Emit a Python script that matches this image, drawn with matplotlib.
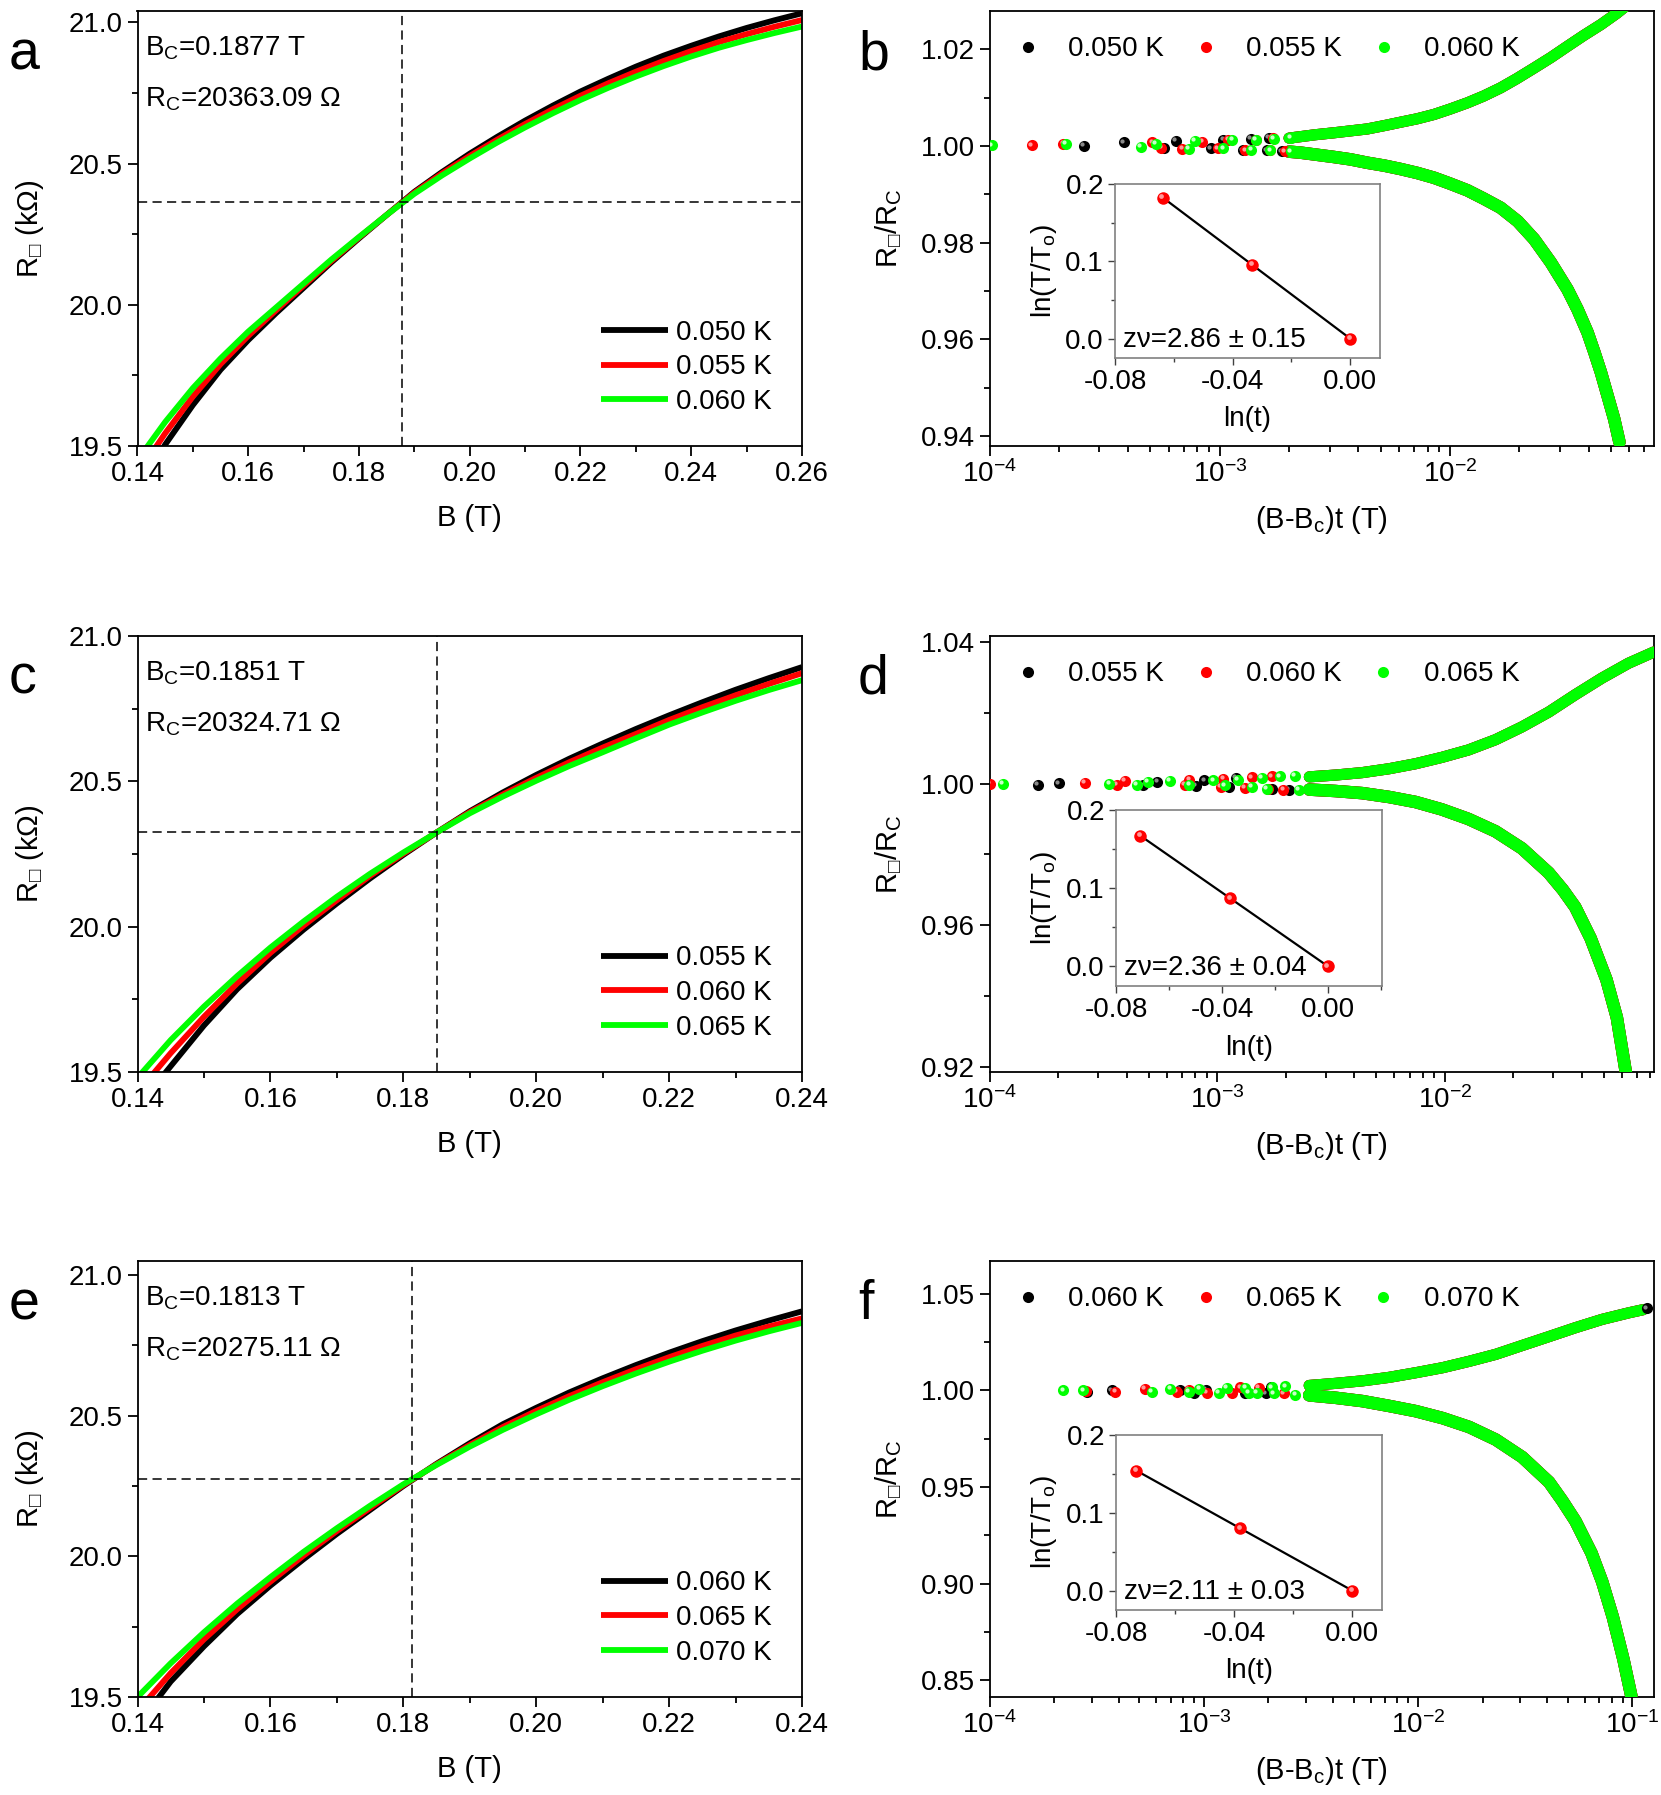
import matplotlib
matplotlib.use('Agg')
import matplotlib.pyplot as plt
import numpy as np
from matplotlib.transforms import offset_copy
from matplotlib.ticker import MultipleLocator, FormatStrFormatter, LogLocator, NullFormatter

plt.rcParams.update({
    'font.family': ['Liberation Sans', 'DejaVu Sans'],
    'mathtext.fontset': 'custom',
    'mathtext.rm': 'Liberation Sans',
    'mathtext.it': 'Liberation Sans:italic',
    'mathtext.bf': 'Liberation Sans:bold',
    'mathtext.sf': 'Liberation Sans',
    'mathtext.fallback': 'stixsans',
    'axes.unicode_minus': False,
})

BLK, RED, GRN = '#000000', '#ff0000', '#00ff00'
COLORS = [BLK, RED, GRN]
HILITE = {BLK: '#8a8a8a', RED: '#ff9a9a', GRN: '#c8ffc8'}

# ---------------- panel a ----------------
a_labels = ['0.050 K', '0.055 K', '0.060 K']
a_B = [0.140, 0.145, 0.150, 0.155, 0.160, 0.165, 0.170, 0.175, 0.180, 0.185, 0.190, 0.195, 0.200,
       0.205, 0.210, 0.215, 0.220, 0.225, 0.230, 0.235, 0.240, 0.245, 0.250, 0.255, 0.260]
a_R_050 = [19.34, 19.505, 19.645, 19.77, 19.875, 19.97, 20.06, 20.15, 20.235, 20.318, 20.40, 20.47, 20.535,
           20.595, 20.652, 20.705, 20.755, 20.80, 20.843, 20.882, 20.917, 20.95, 20.98, 21.007, 21.032]
a_R_055 = [19.40, 19.545, 19.675, 19.79, 19.89, 19.98, 20.068, 20.155, 20.238, 20.318, 20.397, 20.465, 20.527,
           20.585, 20.64, 20.692, 20.74, 20.784, 20.825, 20.863, 20.898, 20.93, 20.958, 20.984, 21.008]
a_R_060 = [19.45, 19.585, 19.705, 19.81, 19.905, 19.99, 20.075, 20.16, 20.24, 20.318, 20.393, 20.458, 20.518,
           20.575, 20.628, 20.678, 20.725, 20.768, 20.808, 20.845, 20.879, 20.91, 20.937, 20.962, 20.985]
a_Bc, a_Rc = 0.1877, 20363.09

# ---------------- panel c ----------------
c_labels = ['0.055 K', '0.060 K', '0.065 K']
c_B = [0.140, 0.145, 0.150, 0.155, 0.160, 0.165, 0.170, 0.175, 0.180, 0.185, 0.190,
       0.195, 0.200, 0.205, 0.210, 0.215, 0.220, 0.225, 0.230, 0.235, 0.240]
c_R_055 = [19.38, 19.52, 19.66, 19.785, 19.893, 19.99, 20.08, 20.166, 20.247, 20.324, 20.397,
           20.462, 20.522, 20.578, 20.63, 20.68, 20.727, 20.772, 20.815, 20.855, 20.893]
c_R_060 = [19.43, 19.565, 19.69, 19.805, 19.91, 20.004, 20.091, 20.175, 20.251, 20.324, 20.394,
           20.455, 20.512, 20.566, 20.616, 20.663, 20.711, 20.755, 20.796, 20.835, 20.872]
c_R_065 = [19.48, 19.61, 19.725, 19.83, 19.928, 20.018, 20.103, 20.182, 20.255, 20.324, 20.39,
           20.448, 20.502, 20.553, 20.60, 20.648, 20.695, 20.737, 20.777, 20.814, 20.848]
c_Bc, c_Rc = 0.1851, 20324.71

# ---------------- panel e ----------------
e_labels = ['0.060 K', '0.065 K', '0.070 K']
e_B = c_B
e_R_060 = [19.40, 19.555, 19.68, 19.795, 19.896, 19.99, 20.08, 20.165, 20.25, 20.329, 20.402,
           20.47, 20.528, 20.583, 20.633, 20.68, 20.724, 20.765, 20.803, 20.838, 20.871]
e_R_065 = [19.45, 19.585, 19.705, 19.812, 19.91, 20.003, 20.09, 20.172, 20.253, 20.327, 20.396,
           20.46, 20.517, 20.57, 20.619, 20.665, 20.708, 20.748, 20.785, 20.817, 20.846]
e_R_070 = [19.50, 19.62, 19.73, 19.832, 19.926, 20.016, 20.10, 20.18, 20.256, 20.325, 20.39,
           20.45, 20.505, 20.557, 20.605, 20.65, 20.692, 20.731, 20.767, 20.80, 20.83]
e_Bc, e_Rc = 0.1813, 20275.11

# ---------------- panel b (scaling) ----------------
b_pts_x = [[2.57e-4, 3.84e-4, 5.72e-4, 6.45e-4, 9.12e-4, 1.035e-3, 1.26e-3, 1.36e-3, 1.60e-3, 1.63e-3, 1.86e-3],
           [1.53e-4, 2.09e-4, 5.09e-4, 5.58e-4, 6.87e-4, 8.39e-4, 9.81e-4, 1.089e-3, 1.29e-3, 1.43e-3, 1.66e-3, 1.70e-3, 1.92e-3],
           [1.02e-4, 2.14e-4, 4.53e-4, 5.26e-4, 7.36e-4, 7.80e-4, 1.035e-3, 1.133e-3, 1.37e-3, 1.43e-3, 1.66e-3, 1.72e-3, 2.03e-3, 2.03e-3]]
b_pts_y = [[1.0000, 1.0007, 0.9996, 1.0010, 0.9995, 1.0013, 0.9991, 1.0014, 0.9991, 1.0016, 0.9989],
           [1.0001, 1.0004, 1.0007, 0.9996, 0.9994, 1.0008, 0.9995, 1.0013, 0.9991, 1.0013, 0.9991, 1.0016, 0.9989],
           [1.0001, 1.0004, 0.9998, 1.0004, 0.9994, 1.0010, 0.9995, 1.0012, 0.9992, 1.0013, 0.9991, 1.0014, 0.9989, 1.0016]]
b_up_x = [2.0e-3, 2.24e-3, 2.6e-3, 3.13e-3, 3.7e-3, 4.38e-3, 5.2e-3, 6.11e-3, 7.2e-3, 8.53e-3, 1.0e-2, 1.19e-2,
          1.4e-2, 1.66e-2, 1.95e-2, 2.32e-2, 2.75e-2, 3.24e-2, 3.8e-2, 4.53e-2, 5.3e-2, 5.91e-2, 6.6e-2]
b_up_y = [1.0016, 1.0019, 1.0023, 1.0027, 1.0031, 1.0035, 1.0042, 1.0049, 1.0056, 1.0065, 1.0076, 1.0089,
          1.0103, 1.0120, 1.0139, 1.0161, 1.0183, 1.0206, 1.0228, 1.0251, 1.0274, 1.0292, 1.0312]
b_dn_x = [2.0e-3, 2.24e-3, 2.6e-3, 3.13e-3, 3.7e-3, 4.38e-3, 5.2e-3, 6.11e-3, 7.2e-3, 8.53e-3, 1.0e-2, 1.19e-2,
          1.4e-2, 1.66e-2, 1.97e-2, 2.32e-2, 2.74e-2, 3.24e-2, 3.58e-2, 3.96e-2, 4.24e-2, 4.53e-2, 4.84e-2, 5.17e-2, 5.45e-2]
b_dn_y = [0.9988, 0.9986, 0.9982, 0.9977, 0.9972, 0.9965, 0.9959, 0.9952, 0.9944, 0.9934, 0.9922, 0.9908,
          0.9891, 0.9872, 0.9844, 0.9807, 0.9759, 0.9703, 0.9662, 0.9614, 0.9573, 0.9531, 0.9483, 0.9435, 0.9387]
b_labels = a_labels
b_lnt = [-0.0637, -0.0333, 0.0]
b_lnT = [0.1823, 0.0953, 0.0]

# ---------------- panel d (scaling) ----------------
d_pts_x = [[1.63e-4, 2.02e-4, 4.71e-4, 5.46e-4, 8.07e-4, 8.79e-4, 1.13e-3, 1.21e-3, 1.74e-3, 2.06e-3],
           [1.0e-4, 2.62e-4, 3.62e-4, 3.94e-4, 7.23e-4, 7.55e-4, 1.04e-3, 1.064e-3, 1.32e-3, 1.42e-3, 1.68e-3, 1.74e-3, 1.95e-3],
           [1.14e-4, 3.36e-4, 4.43e-4, 4.95e-4, 6.21e-4, 7.55e-4, 9.62e-4, 1.08e-3, 1.23e-3, 1.42e-3, 1.57e-3, 1.65e-3, 1.89e-3, 2.2e-3, 2.28e-3]]
d_pts_y = [[0.9997, 1.0001, 0.9995, 1.0005, 0.9994, 1.0009, 0.9991, 1.0016, 0.9986, 0.9983],
           [1.0000, 1.0003, 0.9997, 1.0007, 0.9997, 1.0011, 0.9991, 1.0014, 0.9988, 1.0018, 0.9986, 1.0020, 0.9983],
           [1.0000, 0.9999, 0.9997, 1.0005, 1.0007, 0.9997, 1.0009, 0.9995, 1.0011, 0.9990, 1.0016, 0.9986, 1.0020, 1.0022, 0.9983]]
d_up_x = [2.54e-3, 3.3e-3, 4.34e-3, 5.7e-3, 7.43e-3, 9.7e-3, 1.27e-2, 1.67e-2, 2.18e-2, 2.86e-2, 3.74e-2, 4.90e-2, 6.41e-2, 8.3e-2]
d_up_y = [1.0019, 1.0024, 1.0031, 1.0042, 1.0056, 1.0074, 1.0095, 1.0124, 1.0160, 1.0202, 1.0251, 1.0298, 1.0340, 1.0372]
d_dn_x = [2.54e-3, 3.3e-3, 4.34e-3, 5.7e-3, 7.43e-3, 9.7e-3, 1.27e-2, 1.67e-2, 2.18e-2, 2.86e-2, 3.3e-2, 3.74e-2,
          4.37e-2, 5.13e-2, 5.70e-2, 6.24e-2, 6.6e-2]
d_dn_y = [0.9983, 0.9979, 0.9973, 0.9962, 0.9948, 0.9927, 0.9900, 0.9865, 0.9817, 0.9748, 0.9700, 0.9651,
          0.9563, 0.9446, 0.9339, 0.9185, 0.9100]
d_labels = c_labels
d_lnt = [-0.0708, -0.0369, 0.0]
d_lnT = [0.1671, 0.0870, 0.0]

# ---------------- panel f (scaling) ----------------
f_pts_x = [[2.86e-4, 3.72e-4, 7.70e-4, 8.96e-4, 1.02e-3, 1.56e-3, 1.94e-3, 2.05e-3, 1.17e-1],
           [2.81e-4, 3.86e-4, 5.32e-4, 7.49e-4, 8.49e-4, 1.03e-3, 1.35e-3, 1.48e-3, 1.80e-3, 2.36e-3],
           [2.21e-4, 2.74e-4, 5.72e-4, 6.96e-4, 8.49e-4, 9.52e-4, 1.17e-3, 1.28e-3, 1.56e-3, 1.62e-3, 1.77e-3, 2.08e-3, 2.12e-3, 2.40e-3, 2.67e-3]]
f_pts_y = [[0.9994, 1.0000, 1.0005, 0.9985, 1.0005, 0.9985, 0.9985, 1.0017, 1.0425],
           [0.9997, 0.9993, 1.0009, 0.9993, 1.0005, 0.9988, 0.9988, 1.0017, 1.0014, 0.9985],
           [1.0000, 1.0000, 0.9993, 1.0009, 0.9993, 1.0009, 0.9988, 1.0014, 1.0014, 0.9988, 0.9988, 1.0017, 0.9985, 1.0022, 0.9979]]
f_up_x = [3.10e-3, 4.13e-3, 5.50e-3, 7.32e-3, 9.75e-3, 1.30e-2, 1.73e-2, 2.30e-2, 3.06e-2, 4.08e-2, 5.42e-2, 7.22e-2, 9.62e-2, 1.12e-1]
f_up_y = [1.0026, 1.0037, 1.0050, 1.0068, 1.0092, 1.0118, 1.0151, 1.0187, 1.0233, 1.0279, 1.0325, 1.0368, 1.0402, 1.0418]
f_dn_x = [3.10e-3, 4.13e-3, 5.50e-3, 7.32e-3, 9.75e-3, 1.30e-2, 1.73e-2, 2.30e-2, 3.06e-2, 4.08e-2, 4.7e-2, 5.42e-2,
          6.44e-2, 7.22e-2, 8.10e-2, 9.08e-2, 9.62e-2, 9.9e-2]
f_dn_y = [0.9975, 0.9962, 0.9945, 0.9920, 0.9893, 0.9857, 0.9811, 0.9746, 0.9655, 0.9526, 0.9430, 0.9324,
          0.9158, 0.9011, 0.8827, 0.8607, 0.8478, 0.8414]
f_labels = e_labels
f_lnt = [-0.0731, -0.0379, 0.0]
f_lnT = [0.1542, 0.0800, 0.0]

# ============================================================
W, H = 1661, 1795
fig = plt.figure(figsize=(W / 100, H / 100), dpi=100)

def frac_rect(left, top, right, bottom):
    return [left / W, 1 - bottom / H, (right - left) / W, (bottom - top) / H]

ROWS = [(11, 446), (636, 1072), (1261, 1697)]
LEFT_COL = (137.5, 802)
RIGHT_COL = (989.6, 1654)
TICK_FS = 20

def style_axes(ax, lw=1.3):
    for s in ax.spines.values():
        s.set_linewidth(lw)
    ax.tick_params(which='both', direction='out', top=False, right=False, width=lw, labelsize=TICK_FS)
    ax.tick_params(which='major', length=7)
    ax.tick_params(which='minor', length=4)

def balls(ax, x, y, color, ms=8.0, z=3, label=None, hilite=True):
    h, = ax.plot(x, y, 'o', ms=ms, color=color, mec='none', zorder=z, label=label)
    if hilite:
        tr = offset_copy(ax.transData, fig=ax.figure, x=-1.2, y=1.2, units='points')
        ax.plot(x, y, 'o', ms=ms * 0.38, color=HILITE[color], mec='none', transform=tr, zorder=z + 0.1)
    return h

def letter_text(x_px, row, letter):
    top, _ = ROWS[row]
    fig.text(x_px / W, 1 - (69 + (top - 11)) / H, letter, fontsize=40, ha='left', va='baseline')

def left_panel(row, B, curves, labels, Bc, Rc, xlim, ylim, letter):
    top, bot = ROWS[row]
    ax = fig.add_axes(frac_rect(LEFT_COL[0], top, LEFT_COL[1], bot))
    for R, c, lab in zip(curves, COLORS, labels):
        ax.plot(B, R, color=c, lw=4.2, label=lab, solid_capstyle='butt', zorder=2)
    ax.axvline(Bc, color='k', lw=1.1, ls=(0, (6, 3.5)), zorder=3)
    ax.axhline(Rc / 1000.0, color='k', lw=1.1, ls=(0, (6, 3.5)), zorder=3)
    ax.set_xlim(*xlim)
    ax.set_ylim(*ylim)
    ax.xaxis.set_major_locator(MultipleLocator(0.02))
    ax.xaxis.set_minor_locator(MultipleLocator(0.01))
    ax.xaxis.set_major_formatter(FormatStrFormatter('%.2f'))
    ax.yaxis.set_major_locator(MultipleLocator(0.5))
    ax.yaxis.set_minor_locator(MultipleLocator(0.25))
    ax.yaxis.set_major_formatter(FormatStrFormatter('%.1f'))
    style_axes(ax)
    ax.set_xlabel('B (T)', fontsize=21)
    ax.set_ylabel('R$_{\\mathrm{□}}$ (kΩ)', fontsize=21)
    ax.yaxis.set_label_coords(-0.138, 0.5)
    ax.xaxis.set_label_coords(0.5, -0.133)
    ax.text(0.011, 0.915, 'B$_{\\mathrm{C}}$=%.4f T' % Bc, transform=ax.transAxes,
            fontsize=20, va='center', ha='left')
    ax.text(0.011, 0.798, 'R$_{\\mathrm{C}}$=%.2f Ω' % Rc, transform=ax.transAxes,
            fontsize=20, va='center', ha='left')
    ax.legend(loc='center left', bbox_to_anchor=(0.6975, 0.181), frameon=False, fontsize=20,
              handlelength=2.4, handletextpad=0.3, labelspacing=0.31, borderpad=0, borderaxespad=0)
    letter_text(9, row, letter)
    return ax

def right_panel(row, pts_x, pts_y, up_x, up_y, dn_x, dn_y, labels, xlim, ylim, ymaj, ymin, yfmt,
                lnt, lnT, znu, inset_xlim, inset_rect, letter):
    top, bot = ROWS[row]
    ax = fig.add_axes(frac_rect(RIGHT_COL[0], top, RIGHT_COL[1], bot))
    ax.set_xscale('log')
    handles = []
    for k, c in enumerate(COLORS):
        z = 2 + k
        ax.plot(up_x, up_y, color=c, lw=8.0, solid_capstyle='round', zorder=z)
        ax.plot(dn_x, dn_y, color=c, lw=9.0, solid_capstyle='round', zorder=z)
    for k, c in enumerate(COLORS):
        h = balls(ax, pts_x[k], pts_y[k], c, z=6 + k, label=labels[k])
        handles.append(h)
    ax.set_xlim(*xlim)
    ax.set_ylim(*ylim)
    ax.xaxis.set_major_locator(LogLocator(base=10, numticks=10))
    ax.xaxis.set_minor_locator(LogLocator(base=10, subs=np.arange(2, 10), numticks=20))
    ax.xaxis.set_minor_formatter(NullFormatter())
    ax.yaxis.set_major_locator(MultipleLocator(ymaj))
    ax.yaxis.set_minor_locator(MultipleLocator(ymin))
    ax.yaxis.set_major_formatter(FormatStrFormatter(yfmt))
    style_axes(ax)
    ax.set_xlabel('(B-B$_{\\mathrm{c}}$)t (T)', fontsize=21)
    ax.set_ylabel('R$_{\\mathrm{□}}$/R$_{\\mathrm{C}}$', fontsize=21)
    ax.yaxis.set_label_coords(-0.129, 0.5)
    ax.xaxis.set_label_coords(0.5, -0.133)
    ax.legend(handles=handles, loc='center left', bbox_to_anchor=(0.0367, 0.912), ncol=3, frameon=False,
              fontsize=20, handlelength=1.0, handletextpad=0.95, columnspacing=1.0,
              borderpad=0, borderaxespad=0)
    letter_text(858, row, letter)

    # inset
    ins = fig.add_axes(frac_rect(*inset_rect))
    fit = np.polyfit(lnt, lnT, 1)
    ins.plot(lnt, np.polyval(fit, lnt), color='k', lw=1.6, zorder=2)
    balls(ins, lnt, lnT, RED, ms=9.0, z=3)
    ins.set_xlim(*inset_xlim)
    ins.set_ylim(-0.025, 0.2)
    ins.xaxis.set_major_locator(MultipleLocator(0.04))
    ins.xaxis.set_minor_locator(MultipleLocator(0.02))
    ins.xaxis.set_major_formatter(FormatStrFormatter('%.2f'))
    ins.yaxis.set_major_locator(MultipleLocator(0.1))
    ins.yaxis.set_minor_locator(MultipleLocator(0.05))
    ins.yaxis.set_major_formatter(FormatStrFormatter('%.1f'))
    for s in ins.spines.values():
        s.set_linewidth(1.2)
        s.set_color('#808080')
    ins.tick_params(which='both', direction='out', top=False, right=False, width=1.0,
                    labelsize=20, color='#404040', pad=3)
    ins.tick_params(which='major', length=5)
    ins.tick_params(which='minor', length=3)
    ins.set_xlabel('ln(t)', fontsize=20)
    ins.set_ylabel('ln(T/T$_{\\mathrm{o}}$)', fontsize=20)
    ins.yaxis.set_label_coords(-0.213, 0.5)
    ins.xaxis.set_label_coords(0.5, -0.276)
    ins.text(0.03, 0.063, 'zν=%s' % znu, transform=ins.transAxes, fontsize=20,
             ha='left', va='baseline', zorder=5)
    return ax

left_panel(0, a_B, [a_R_050, a_R_055, a_R_060], a_labels, a_Bc, a_Rc, (0.14, 0.26), (19.5, 21.04), 'a')
left_panel(1, c_B, [c_R_055, c_R_060, c_R_065], c_labels, c_Bc, c_Rc, (0.14, 0.24), (19.5, 21.0), 'c')
left_panel(2, e_B, [e_R_060, e_R_065, e_R_070], e_labels, e_Bc, e_Rc, (0.14, 0.24), (19.5, 21.05), 'e')

right_panel(0, b_pts_x, b_pts_y, b_up_x, b_up_y, b_dn_x, b_dn_y, b_labels, (1e-4, 0.077), (0.9379, 1.0279),
            0.02, 0.01, '%.2f', b_lnt, b_lnT, '2.86 ± 0.15', (-0.08, 0.0101), (1115, 184, 1380, 358), 'b')
right_panel(1, d_pts_x, d_pts_y, d_up_x, d_up_y, d_dn_x, d_dn_y, d_labels, (1e-4, 0.083), (0.9185, 1.0417),
            0.04, 0.02, '%.2f', d_lnt, d_lnT, '2.36 ± 0.04', (-0.08, 0.0203), (1116, 810, 1382, 986), 'd')
right_panel(2, f_pts_x, f_pts_y, f_up_x, f_up_y, f_dn_x, f_dn_y, f_labels, (1e-4, 0.126), (0.8414, 1.067),
            0.05, 0.025, '%.2f', f_lnt, f_lnT, '2.11 ± 0.03', (-0.08, 0.0101), (1116, 1435, 1382, 1610), 'f')

fig.savefig('out.png', dpi=100)
